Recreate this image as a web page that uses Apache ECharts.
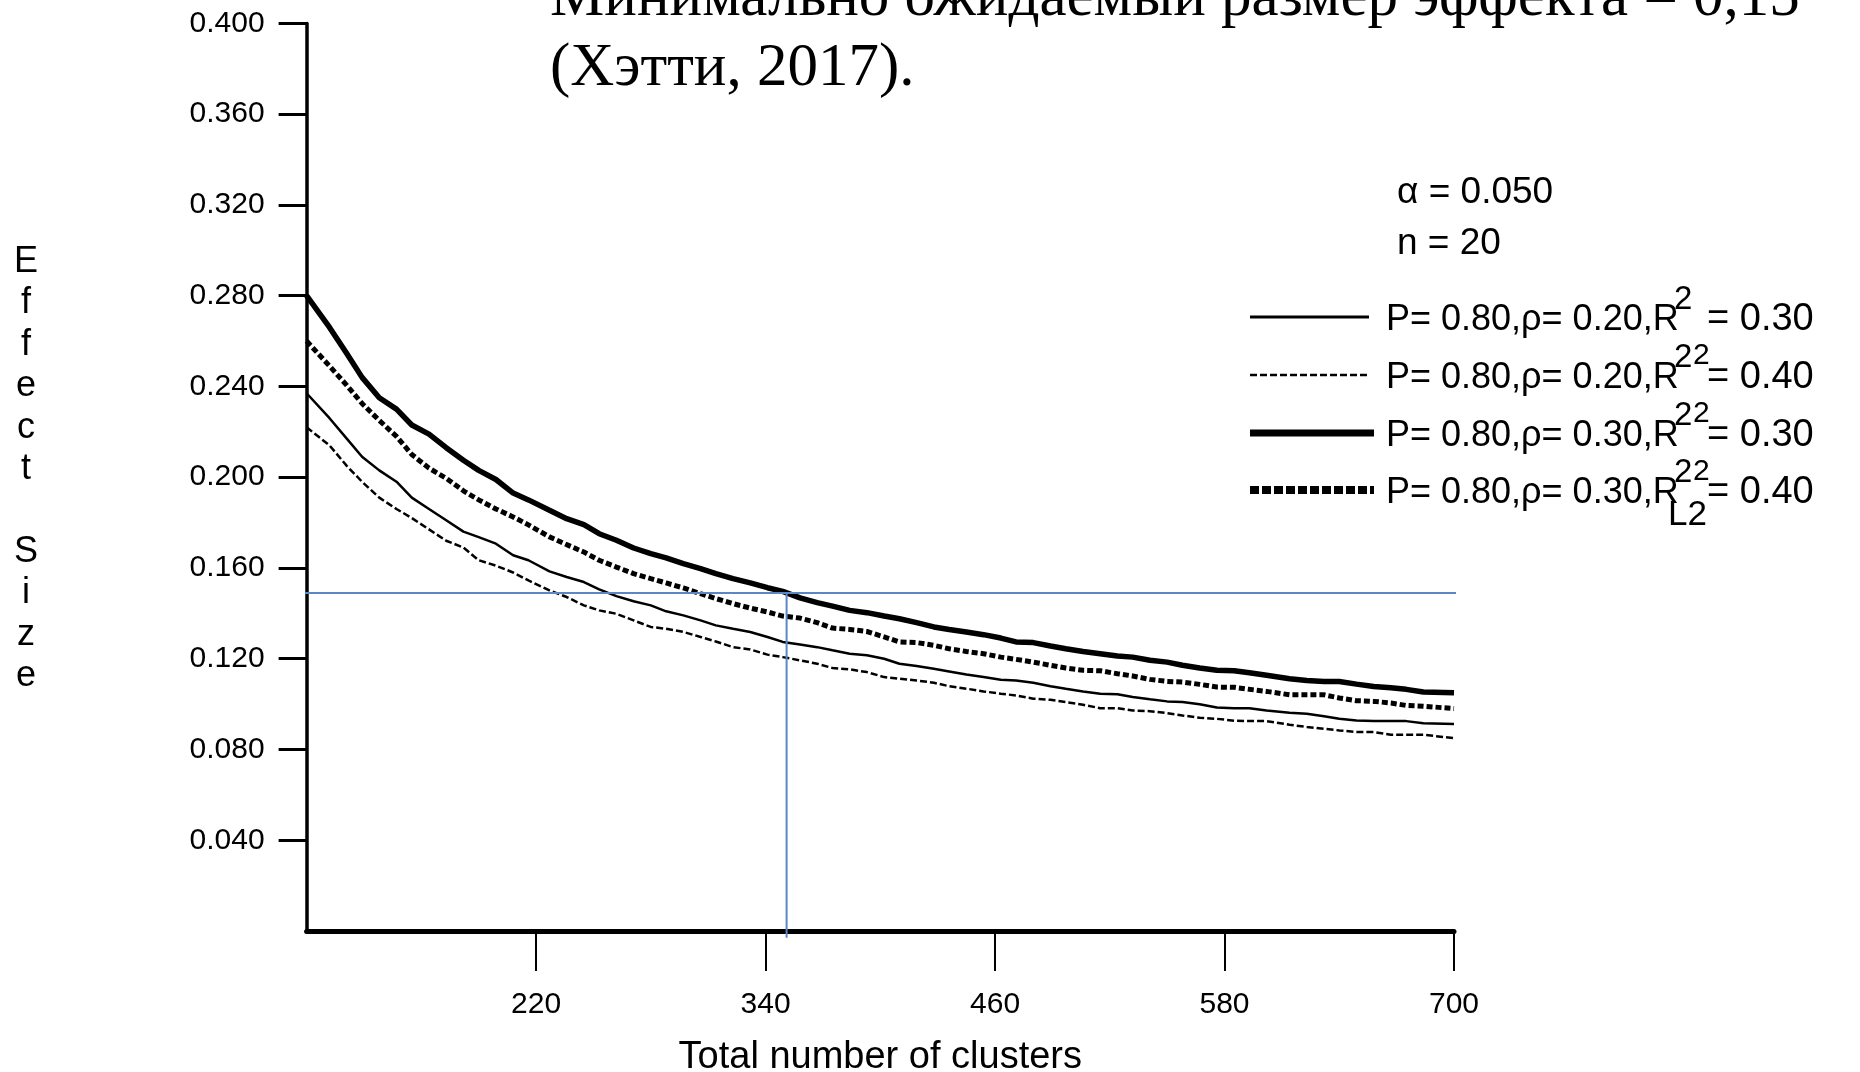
<!DOCTYPE html>
<html>
<head>
<meta charset="utf-8">
<script src="https://cdn.jsdelivr.net/npm/echarts@6/dist/echarts.min.js"></script>
<style>
html,body{margin:0;padding:0;background:#fff;}
#chart{width:1860px;height:1072px;}
</style>
</head>
<body>
<div id="chart"></div>
<script>
// Total number of clusters (x positions where values were read)
const clusters = [100,112,121,129,138,147,155,164,173,182,190,199,208,216,
  227,236,245,253,262,271,280,288,297,306,314,323,332,341,349,
  358,367,375,384,393,402,410,419,428,436,445,454,463,471,480,
  489,497,506,515,524,532,541,550,558,567,576,585,593,602,
  614,623,632,640,649,658,667,675,684,700];

// P=0.80, rho=0.20, R2=0.30 (thin solid)
const rho20R30 = [0.237,0.226,0.217,0.209,0.203,0.198,0.191,0.186,0.181,0.176,0.1736,0.1707,0.1656,0.1634,
  0.1585,0.1560,0.1538,0.1506,0.1476,0.1453,0.1435,0.1409,0.1391,0.1369,0.1347,0.1332,0.1318,0.1296,0.1274,
  0.1263,0.1251,0.1237,0.1222,0.1215,0.1200,0.1178,0.1168,0.1156,0.1144,0.1130,0.1119,0.1107,0.1104,0.1094,
  0.1079,0.1068,0.1056,0.1046,0.1043,0.1031,0.1021,0.1012,0.1009,0.0999,0.0985,0.0982,0.0982,0.0972,
  0.0962,0.0957,0.0946,0.0935,0.0928,0.0925,0.0925,0.0925,0.0916,0.0912];

// P=0.80, rho=0.20, R2=0.40 (thin dashed)
const rho20R40 = [0.222,0.214,0.205,0.198,0.191,0.186,0.182,0.177,0.172,0.169,0.1634,0.161,0.158,0.1545,
  0.1501,0.1472,0.1435,0.1413,0.1398,0.1369,0.1340,0.1332,0.1318,0.1296,0.1276,0.1251,0.1241,0.1218,0.1207,
  0.1193,0.1178,0.1159,0.1153,0.1141,0.1119,0.1112,0.1104,0.1094,0.1079,0.1068,0.1056,0.1046,0.1038,0.1024,
  0.1019,0.1009,0.0997,0.0982,0.0982,0.0972,0.0969,0.0960,0.0950,0.0940,0.0935,0.0927,0.0925,0.0925,
  0.0909,0.0899,0.0891,0.0884,0.0877,0.0877,0.0865,0.0865,0.0865,0.0850];

// P=0.80, rho=0.30, R2=0.30 (thick solid)
const rho30R30 = [0.280,0.266,0.2545,0.244,0.235,0.230,0.223,0.219,0.213,0.2075,0.203,0.199,0.193,0.190,
  0.1854,0.1817,0.1791,0.1751,0.1722,0.1688,0.1663,0.1644,0.1619,0.1597,0.1575,0.1553,0.1534,0.1513,0.1497,
  0.1468,0.1447,0.1432,0.1413,0.1403,0.1388,0.1376,0.1359,0.1340,0.1329,0.1318,0.1306,0.1291,0.1274,0.1271,
  0.1256,0.1244,0.1232,0.1222,0.1212,0.1207,0.1193,0.1185,0.1171,0.1159,0.1149,0.1147,0.1138,0.1127,
  0.1112,0.1104,0.1100,0.1100,0.1088,0.1078,0.1072,0.1065,0.1053,0.1050];

// P=0.80, rho=0.30, R2=0.40 (thick dotted)
const rho30R40 = [0.260,0.249,0.2405,0.2325,0.225,0.218,0.210,0.204,0.1995,0.194,0.190,0.186,0.1825,0.179,
  0.1737,0.1703,0.1670,0.1634,0.1604,0.1575,0.1553,0.1534,0.1512,0.1487,0.1465,0.1443,0.1423,0.1406,0.1388,
  0.1379,0.1359,0.1335,0.1329,0.1320,0.1296,0.1274,0.1271,0.1259,0.1244,0.1232,0.1222,0.1207,0.1197,0.1185,
  0.1171,0.1159,0.1149,0.1147,0.1134,0.1124,0.1109,0.1100,0.1097,0.1087,0.1075,0.1074,0.1065,0.1056,
  0.1041,0.1041,0.1041,0.1027,0.1015,0.1012,0.1005,0.0994,0.0991,0.0980];

// Reference lines: minimum expected effect size 0.15 and required clusters
const refEffect = 0.149;
const refClusters = 351;
const refXRange = [98, 703];
const refYBottom = -0.003;

const xTicks = [220, 340, 460, 580, 700];
const yTicks = [0.04, 0.08, 0.12, 0.16, 0.20, 0.24, 0.28, 0.32, 0.36, 0.40];

const legendLabels = [
  {main: 'P= 0.80,ρ= 0.20,R', val: '= 0.30'},
  {main: 'P= 0.80,ρ= 0.20,R', val: '= 0.40'},
  {main: 'P= 0.80,ρ= 0.30,R', val: '= 0.30'},
  {main: 'P= 0.80,ρ= 0.30,R', val: '= 0.40'}
];

const topText1 = 'Минимально ожидаемый размер эффекта = 0,15';
const topText2 = '(Хэтти, 2017).';

const FONT = '"Liberation Sans", Arial, sans-serif';
const SERIF = '"Liberation Serif", "DejaVu Serif", serif';

function pairs(vals) { return clusters.map((x, i) => [x, vals[i]]); }

const chart = echarts.init(document.getElementById('chart'), null, {renderer: 'canvas'});

// legend graphics
const legendGraphics = [];
const rowY = [317, 375, 433, 490];
const sampleStyles = [
  {lineWidth: 3, lineDash: null},
  {lineWidth: 2.5, lineDash: [7, 3]},
  {lineWidth: 7, lineDash: null},
  {lineWidth: 8, lineDash: [9, 3]}
];
rowY.forEach((y, i) => {
  const s = sampleStyles[i];
  legendGraphics.push({
    type: 'line', z: 10,
    shape: {x1: 1250, y1: y, x2: i >= 2 ? 1374 : 1369, y2: y},
    style: {stroke: '#000', lineWidth: s.lineWidth, lineDash: s.lineDash}
  });
});
legendLabels.forEach((lab, i) => {
  const y = rowY[i] + 3;
  legendGraphics.push({type: 'text', z: 11, x: 1386, y: y,
    style: {text: lab.main, fontSize: 36, fontFamily: FONT, fill: '#000', align: 'left', verticalAlign: 'middle'}});
  legendGraphics.push({type: 'text', z: 11, x: 1674, y: y - 20,
    style: {text: '2', fontSize: 33, fontFamily: FONT, fill: '#000', align: 'left', verticalAlign: 'middle'}});
  if (i < 3) {
    legendGraphics.push({type: 'text', z: 11, x: 1693, y: y + 36,
      style: {text: '2', fontSize: 30, fontFamily: FONT, fill: '#000', align: 'left', verticalAlign: 'middle'}});
  } else {
    legendGraphics.push({type: 'text', z: 11, x: 1668, y: y + 22,
      style: {text: 'L2', fontSize: 35, fontFamily: FONT, fill: '#000', align: 'left', verticalAlign: 'middle'}});
  }
  legendGraphics.push({type: 'text', z: 11, x: 1707, y: y,
    style: {text: lab.val, fontSize: 38, fontFamily: FONT, fill: '#000', align: 'left', verticalAlign: 'middle'}});
});

const option = {
  backgroundColor: '#ffffff',
  animation: false,
  grid: {left: 306.6, right: 406, top: 23.4, bottom: 141, containLabel: false, outerBoundsMode: 'none'},
  xAxis: {
    type: 'value', min: 100, max: 700, interval: 120,
    name: 'Total number of clusters',
    nameLocation: 'middle', nameGap: 108,
    nameTextStyle: {fontSize: 38, fontFamily: FONT, color: '#000'},
    axisLine: {show: true, onZero: false, lineStyle: {color: '#000', width: 5}},
    axisTick: {show: true, inside: false, length: 40, customValues: xTicks, lineStyle: {color: '#000', width: 2}},
    axisLabel: {show: true, margin: 59, customValues: xTicks, fontSize: 30, fontFamily: FONT, color: '#000'},
    splitLine: {show: false}
  },
  yAxis: {
    type: 'value', min: 0, max: 0.4, interval: 0.04,
    axisLine: {show: true, lineStyle: {color: '#000', width: 3.5}},
    axisTick: {show: true, inside: false, length: 28, customValues: yTicks, lineStyle: {color: '#000', width: 3}},
    axisLabel: {show: true, margin: 42, customValues: yTicks, fontSize: 30, fontFamily: FONT, color: '#000',
      formatter: v => Number(v).toFixed(3)},
    splitLine: {show: false}
  },
  series: [
    {name: 'P= 0.80,ρ= 0.20,R²L2= 0.30', type: 'line', showSymbol: false, data: pairs(rho20R30),
      lineStyle: {color: '#000', width: 2.5, type: 'solid'}, z: 3},
    {name: 'P= 0.80,ρ= 0.20,R²L2= 0.40', type: 'line', showSymbol: false, data: pairs(rho20R40),
      lineStyle: {color: '#000', width: 2.5, type: [7, 3]}, z: 3},
    {name: 'P= 0.80,ρ= 0.30,R²L2= 0.30', type: 'line', showSymbol: false, data: pairs(rho30R30),
      lineStyle: {color: '#000', width: 5.5, type: 'solid'}, z: 3},
    {name: 'P= 0.80,ρ= 0.30,R²L2= 0.40', type: 'line', showSymbol: false, data: pairs(rho30R40),
      lineStyle: {color: '#000', width: 5, type: [6, 3]}, z: 3},
    {name: 'ref-h', type: 'line', showSymbol: false, clip: false, silent: true,
      data: [[refXRange[0], refEffect], [refXRange[1], refEffect]],
      lineStyle: {color: '#5b87c5', width: 2}, z: 4},
    {name: 'ref-v', type: 'line', showSymbol: false, clip: false, silent: true,
      data: [[refClusters, refEffect], [refClusters, refYBottom]],
      lineStyle: {color: '#5b87c5', width: 2}, z: 4}
  ],
  graphic: [
    {type: 'text', x: 550, y: -1,
      style: {text: topText1, fontSize: 61, fontFamily: SERIF, fill: '#000', align: 'left', verticalAlign: 'middle'}},
    {type: 'text', x: 550, y: 69,
      style: {text: topText2, fontSize: 61, fontFamily: SERIF, fill: '#000', align: 'left', verticalAlign: 'middle'}},
    {type: 'text', x: 26, y: 469,
      style: {text: 'E\nf\nf\ne\nc\nt\n \nS\ni\nz\ne', fontSize: 36, lineHeight: 41.4, fontFamily: FONT, fill: '#000',
        align: 'center', verticalAlign: 'middle'}},
    {type: 'text', x: 1397, y: 192.5,
      style: {text: 'α = 0.050', fontSize: 37, fontFamily: FONT, fill: '#000', align: 'left', verticalAlign: 'middle'}},
    {type: 'text', x: 1397, y: 243.5,
      style: {text: 'n = 20', fontSize: 37, fontFamily: FONT, fill: '#000', align: 'left', verticalAlign: 'middle'}}
  ].concat(legendGraphics)
};
chart.setOption(option);
</script>
</body>
</html>
